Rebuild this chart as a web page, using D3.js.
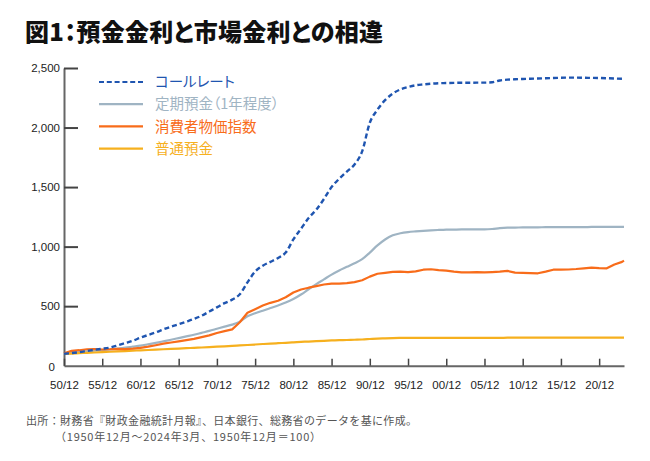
<!DOCTYPE html>
<html><head><meta charset="utf-8">
<script src="https://cdn.jsdelivr.net/npm/d3@7"></script>
<style>
html,body{margin:0;padding:0;background:#fff;}
svg{display:block;background:#fff;}
.palt{font-feature-settings:"palt";}
</style></head><body>
<svg id="chart" width="650" height="461"></svg>
<script>
// ---- data (index, 1950/12 = 100) ----
const periods = ["1950/12","1951/12","1952/12","1953/12","1954/12","1955/12","1956/12","1957/12","1958/12","1959/12",
"1960/12","1961/12","1962/12","1963/12","1964/12","1965/12","1966/12","1967/12","1968/12","1969/12",
"1970/12","1971/12","1972/12","1973/12","1974/12","1975/12","1976/12","1977/12","1978/12","1979/12",
"1980/12","1981/12","1982/12","1983/12","1984/12","1985/12","1986/12","1987/12","1988/12","1989/12",
"1990/12","1991/12","1992/12","1993/12","1994/12","1995/12","1996/12","1997/12","1998/12","1999/12",
"2000/12","2001/12","2002/12","2003/12","2004/12","2005/12","2006/12","2007/12","2008/12","2009/12",
"2010/12","2011/12","2012/12","2013/12","2014/12","2015/12","2016/12","2017/12","2018/12","2019/12",
"2020/12","2021/12","2022/12","2023/12","2024/3"];

const callRate = [100,106,114,124,134,142,152,170,190,210,
235,258,280,305,328,348,370,393,420,455,
490,525,555,600,700,790,840,872,905,950,
1060,1150,1240,1310,1400,1500,1570,1630,1690,1800,
2040,2150,2230,2285,2320,2340,2355,2362,2368,2372,
2374,2375,2376,2376,2377,2377,2380,2395,2402,2405,
2408,2410,2412,2414,2416,2418,2419,2419,2418,2417,
2416,2414,2412,2410,2410];

const timeDeposit = [100,108,115,120,126,130,137,144,152,160,
168,180,192,205,218,232,246,260,276,292,
310,328,345,370,415,440,462,484,506,530,
560,598,642,685,725,765,800,830,860,895,
950,1010,1060,1095,1112,1122,1128,1133,1137,1140,
1142,1143,1144,1144,1145,1145,1148,1155,1159,1160,
1161,1162,1162,1163,1163,1164,1164,1164,1164,1165,
1165,1165,1165,1165,1165];

const cpi = [105,125,130,138,140,136,138,142,140,144,
150,160,172,185,195,205,215,225,240,255,
275,290,305,365,445,475,505,528,545,575,
615,640,655,668,682,690,690,694,702,718,
748,772,780,788,790,786,792,806,810,802,
798,790,784,784,786,783,786,790,796,782,
780,778,776,790,806,806,808,812,818,824,
820,818,850,872,882];

const savingsDeposit = [100,102,105,108,111,114,117,120,123,126,
129,132,135,138,141,144,147,150,153,156,
160,163,166,170,174,178,182,186,189,192,
196,200,203,206,209,212,214,216,218,220,
224,228,230,232,233,234,234,234,234,234,
234,234,234,234,234,234,234,234,235,235,
235,235,235,235,235,235,235,235,235,235,
235,235,235,235,235];

const seriesNames = ["コールレート","定期預金（1年程度）","消費者物価指数","普通預金"];
const xTickLabels = ["50/12","55/12","60/12","65/12","70/12","75/12","80/12","85/12","90/12","95/12","00/12","05/12","10/12","15/12","20/12"];
const xTickPeriods = ["1950/12","1955/12","1960/12","1965/12","1970/12","1975/12","1980/12","1985/12","1990/12","1995/12","2000/12","2005/12","2010/12","2015/12","2020/12"];
const yTickValues = [0,500,1000,1500,2000,2500];
const titleText = "図1：預金金利と市場金利との相違";
const sourceLines = ["出所：財務省『財政金融統計月報』、日本銀行、総務省のデータを基に作成。",
                     "（1950年12月～2024年3月、1950年12月＝100）"];

// ---- styling ----
const colors = {call:"#1f55b0", time:"#9fb4c3", cpi:"#f86c1a", save:"#f6b01e"};
const axisColor = "#666";
const numFont = "'Liberation Sans', Arial, Helvetica, sans-serif";
const jpFont = "'Noto Sans CJK JP', 'Noto Sans', sans-serif";

const toYear = p => { const [y,m] = p.split("/").map(Number); return y + (m-1)/12; };
const xs = periods.map(toYear);

const svg = d3.select("#chart");
const x = d3.scaleLinear().domain([xs[0], xs[xs.length-1]]).range([64, 624]);
const y = d3.scaleLinear().domain([0, 2500]).range([365.7, 68]);

// title
svg.append("text").attr("class","palt")
  .attr("x",25).attr("y",41)
  .attr("font-family",jpFont).attr("font-weight",900).attr("font-size",24)
  .attr("textLength",358).attr("lengthAdjust","spacing")
  .attr("fill","#111").text(titleText);

// y axis
const yAxis = svg.append("g").attr("transform","translate(64,0)")
  .call(d3.axisLeft(y).tickValues(yTickValues).tickSize(-14).tickSizeOuter(0).tickPadding(4)
    .tickFormat(d3.format(",")));
yAxis.select(".domain").attr("stroke",axisColor).attr("stroke-width",2);
yAxis.selectAll(".tick line").attr("stroke","#444").attr("stroke-width",2)
  .filter(d => d === 0).remove();
yAxis.selectAll(".tick text").attr("font-family",numFont).attr("font-size",11.5).attr("fill","#222")
  .filter(d => d === 0).attr("x",-9).attr("dy","0.4em");

// x axis
const xAxis = svg.append("g").attr("transform","translate(0,365.7)")
  .call(d3.axisBottom(x).tickValues(xTickPeriods.map(toYear)).tickSize(-7).tickSizeOuter(0).tickPadding(15)
    .tickFormat((d,i) => xTickLabels[i]));
xAxis.select(".domain").attr("stroke",axisColor).attr("stroke-width",2);
xAxis.selectAll(".tick line").attr("stroke","#444").attr("stroke-width",1.5);
xAxis.selectAll(".tick text").attr("font-family",numFont).attr("font-size",11.5).attr("fill","#222");

// lines
const mk = vals => d3.line().x((d,i)=>x(xs[i])).y(d=>y(d)).curve(d3.curveMonotoneX)(vals);
const mkLin = vals => d3.line().x((d,i)=>x(xs[i])).y(d=>y(d)).curve(d3.curveLinear)(vals);
const g = svg.append("g").attr("fill","none").attr("stroke-linejoin","round");
g.append("path").attr("d",mk(timeDeposit)).attr("stroke",colors.time).attr("stroke-width",2.2);
g.append("path").attr("d",mk(savingsDeposit)).attr("stroke",colors.save).attr("stroke-width",2.2);
g.append("path").attr("d",mkLin(cpi)).attr("stroke",colors.cpi).attr("stroke-width",2.2);
g.append("path").attr("d",mk(callRate)).attr("stroke",colors.call).attr("stroke-width",2.4)
  .attr("stroke-dasharray","5,3");

// legend
const legCols = [colors.call, colors.time, colors.cpi, colors.save];
const leg = svg.append("g");
seriesNames.forEach((n,i) => {
  const yy = 82 + i*22.2;
  leg.append("line").attr("x1",99).attr("x2",143).attr("y1",yy).attr("y2",yy)
    .attr("stroke",legCols[i]).attr("stroke-width",2.2)
    .attr("stroke-dasharray", i===0 ? "5,2.8" : null);
  leg.append("text").attr("class","palt").attr("x",155).attr("y",yy).attr("dy","0.36em")
    .attr("font-family",jpFont).attr("font-size",14.5).attr("fill",legCols[i]).text(n);
});

// source
svg.append("text").attr("x",26).attr("y",425).attr("font-family",jpFont).attr("font-size",11)
  .attr("textLength",391).attr("lengthAdjust","spacing")
  .attr("fill","#555").text(sourceLines[0]);
svg.append("text").attr("x",55).attr("y",441.3).attr("font-family",jpFont).attr("font-size",11)
  .attr("textLength",266).attr("lengthAdjust","spacing")
  .attr("fill","#555").text(sourceLines[1]);
</script>
</body></html>
